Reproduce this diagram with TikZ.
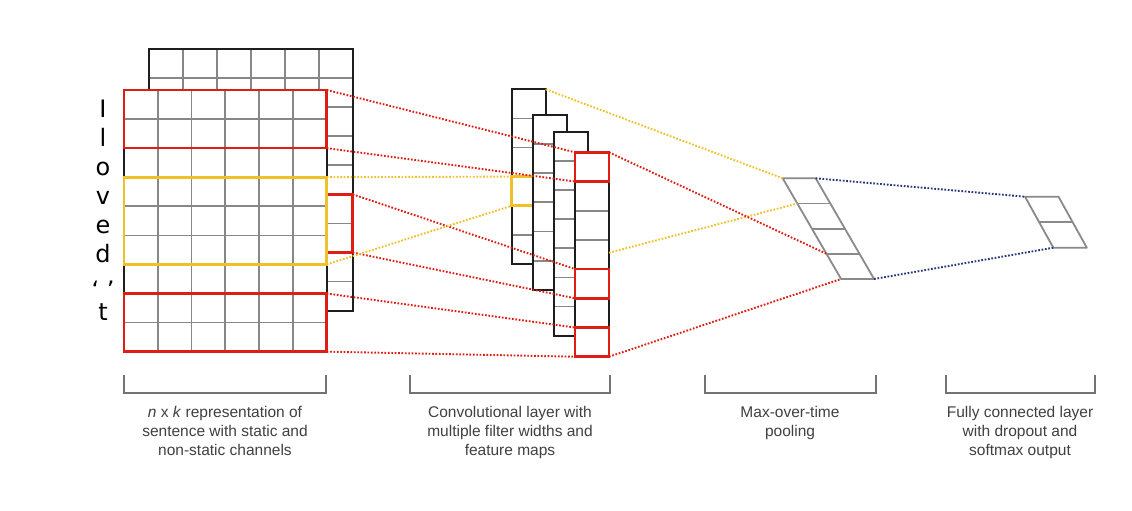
\documentclass[tikz,border=0pt]{standalone}
\usepackage{fontspec}
\setmainfont{Liberation Sans}
\newfontfamily\wordfont{DejaVu Sans}
\definecolor{gridgray}{RGB}{135,135,135}
\definecolor{framecol}{RGB}{30,30,30}
\definecolor{boxred}{RGB}{222,30,20}
\definecolor{boxyellow}{RGB}{240,192,40}
\definecolor{linknavy}{RGB}{40,52,120}
\definecolor{captext}{RGB}{64,64,64}
\definecolor{brgray}{RGB}{115,115,115}
\definecolor{poolgray}{RGB}{138,138,138}
\begin{document}
\begin{tikzpicture}[x=1pt,y=-1pt,
  gridline/.style={draw=gridgray, line width=1.7pt},
  frame/.style={draw=framecol, line width=2pt, rectangle, inner sep=0pt, outer sep=0pt, anchor=north west},
  redbox/.style={draw=boxred, line width=2.6pt, rectangle, inner sep=0pt, outer sep=0pt, anchor=north west},
  yellowbox/.style={draw=boxyellow, line width=2.6pt, rectangle, inner sep=0pt, outer sep=0pt, anchor=north west},
  link/.style={line width=1.9pt, dash pattern=on 1.7pt off 1.7pt},
  redlink/.style={link, draw=boxred},
  yellowlink/.style={link, draw=boxyellow},
  navylink/.style={link, draw=linknavy},
  bracket/.style={draw=brgray, line width=1.5pt},
  poolline/.style={draw=poolgray, line width=1.8pt, line join=round},
  caption/.style={font=\fontsize{15.5}{19}\selectfont, text=captext, align=center, anchor=north, inner sep=0pt},
  word/.style={font=\wordfont\fontsize{24}{24}\selectfont, anchor=base, inner sep=0pt}]
\useasboundingbox[fill=white] (0,0) rectangle (1132,511);

% ---- second channel (behind) ----
\fill[white] (149.3,49) rectangle (352.7,310.6);
\foreach \i in {1,...,5} \draw[gridline] (149.3+\i*33.9,49) -- ++(0,261.6);
\foreach \j in {1,...,8} \draw[gridline] (149.3,49+\j*29.07) -- ++(203.4,0);
\node[frame, minimum width=203.4, minimum height=261.6] (back) at (149.3,49) {};
\node[redbox, minimum width=26, minimum height=58.14] (br) at (326.7,194.35) {};

% ---- first channel (front) ----
\fill[white] (124,90) rectangle (326.7,351.6);
\foreach \i in {1,...,5} \draw[gridline] (124+\i*33.78,90) -- ++(0,261.6);
\foreach \j in {1,...,8} \draw[gridline] (124,90+\j*29.07) -- ++(202.7,0);
\node[frame, minimum width=202.7, minimum height=261.6] (front) at (124,90) {};
\node[redbox, minimum width=202.7, minimum height=58.14] (fr1) at (124,90) {};
\node[redbox, minimum width=202.7, minimum height=58.14] (fr2) at (124,293.5) {};
\node[yellowbox, minimum width=202.7, minimum height=87.2] (fy) at (124,177.2) {};

% ---- words ----
\node[word] (w1) at (103,117) {I};
\node[word] (w2) at (103,146.1) {l};
\node[word] (w3) at (103,175.2) {o};
\node[word] (w4) at (103,204.3) {v};
\node[word] (w5) at (103,233.4) {e};
\node[word] (w6) at (103,262.5) {d};
\node[word] (w7) at (103,298) {‘ ’};
\node[word] (w8) at (103,320.7) {t};

% ---- feature maps ----
\fill[white] (511.7,89.3) rectangle ++(34,174.6);
\foreach \j in {1,...,5} \draw[gridline] (511.7,89.3+\j*29.1) -- ++(34,0);
\node[frame, minimum width=34, minimum height=174.6] (m1) at (511.7,89.3) {};
\node[yellowbox, minimum width=34, minimum height=29.1] (m1y) at (511.7,176.6) {};

\fill[white] (532.7,114.7) rectangle ++(34,175.2);
\foreach \j in {1,...,5} \draw[gridline] (532.7,114.7+\j*29.2) -- ++(34,0);
\node[frame, minimum width=34, minimum height=175.2] (m2) at (532.7,114.7) {};

\fill[white] (553.7,131.7) rectangle ++(34,204);
\foreach \j in {1,...,6} \draw[gridline] (553.7,131.7+\j*29.15) -- ++(34,0);
\node[frame, minimum width=34, minimum height=204] (m3) at (553.7,131.7) {};

\fill[white] (575,152.3) rectangle ++(34,204.4);
\foreach \j in {1,...,6} \draw[gridline] (575,152.3+\j*29.2) -- ++(34,0);
\node[frame, minimum width=34, minimum height=204.4] (m4) at (575,152.3) {};
\node[redbox, minimum width=34, minimum height=29.2] (m4a) at (575,152.3) {};
\node[redbox, minimum width=34, minimum height=29.2] (m4b) at (575,269.1) {};
\node[redbox, minimum width=34, minimum height=29.2] (m4c) at (575,327.5) {};
\coordinate (m4exit) at (609,252.7);

% ---- max-over-time pooling ----
\coordinate (p0) at (782.7,178.3);
\coordinate (p0r) at (815.7,178.3);
\coordinate (p1) at (797.3,203.5);
\coordinate (p1r) at (830.3,203.5);
\coordinate (p2) at (811.9,228.7);
\coordinate (p2r) at (844.9,228.7);
\coordinate (p3) at (826.5,253.8);
\coordinate (p3r) at (859.5,253.8);
\coordinate (p4) at (841.1,279);
\coordinate (p4r) at (874.1,279);
\draw[poolline] (p0) -- (p0r) -- (p4r) -- (p4) -- cycle;
\draw[poolline] (p1) -- (p1r) (p2) -- (p2r) (p3) -- (p3r);

% ---- fully connected output ----
\coordinate (q0) at (1025,196.7);
\coordinate (q0r) at (1058.5,196.7);
\coordinate (q1) at (1039.2,222.2);
\coordinate (q1r) at (1072.7,222.2);
\coordinate (q2) at (1053.3,247.7);
\coordinate (q2r) at (1086.8,247.7);
\draw[poolline] (q0) -- (q0r) -- (q2r) -- (q2) -- cycle;
\draw[poolline] (q1) -- (q1r);

% ---- dotted links ----
\draw[redlink] (fr1.north east) -- (m4a.north west);
\draw[redlink] (fr1.south east) -- (m4a.south west);
\draw[redlink] (br.north east) -- (m4b.north west);
\draw[redlink] (br.south east) -- (m4b.south west);
\draw[redlink] (fr2.north east) -- (m4c.north west);
\draw[redlink] (fr2.south east) -- (m4c.south west);
\draw[yellowlink] (fy.north east) -- (m1y.north west);
\draw[yellowlink] (fy.south east) -- (m1y.south west);
\draw[yellowlink] (m1.north east) -- (p0);
\draw[yellowlink] (m4exit) -- (p1);
\draw[redlink] (m4.north east) -- (p3);
\draw[redlink] (m4.south east) -- (p4);
\draw[navylink] (p0r) -- (q0);
\draw[navylink] (p4r) -- (q2);

% ---- brackets and captions ----
\draw[bracket] (124,375) -- (124,393) -- (326,393) -- (326,375);
\draw[bracket] (410,375) -- (410,393) -- (610,393) -- (610,375);
\draw[bracket] (705,375) -- (705,393) -- (876,393) -- (876,375);
\draw[bracket] (946,375) -- (946,393) -- (1095,393) -- (1095,375);
\node[caption] (c1) at (225,406.5) {\textit{n} x \textit{k} representation of\\sentence with static and\\non-static channels};
\node[caption] (c2) at (510,406.5) {Convolutional layer with\\multiple filter widths and\\feature maps};
\node[caption] (c3) at (790,406.5) {Max-over-time\\pooling};
\node[caption] (c4) at (1020,406.5) {Fully connected layer\\with dropout and\\softmax output};
\end{tikzpicture}
\end{document}
